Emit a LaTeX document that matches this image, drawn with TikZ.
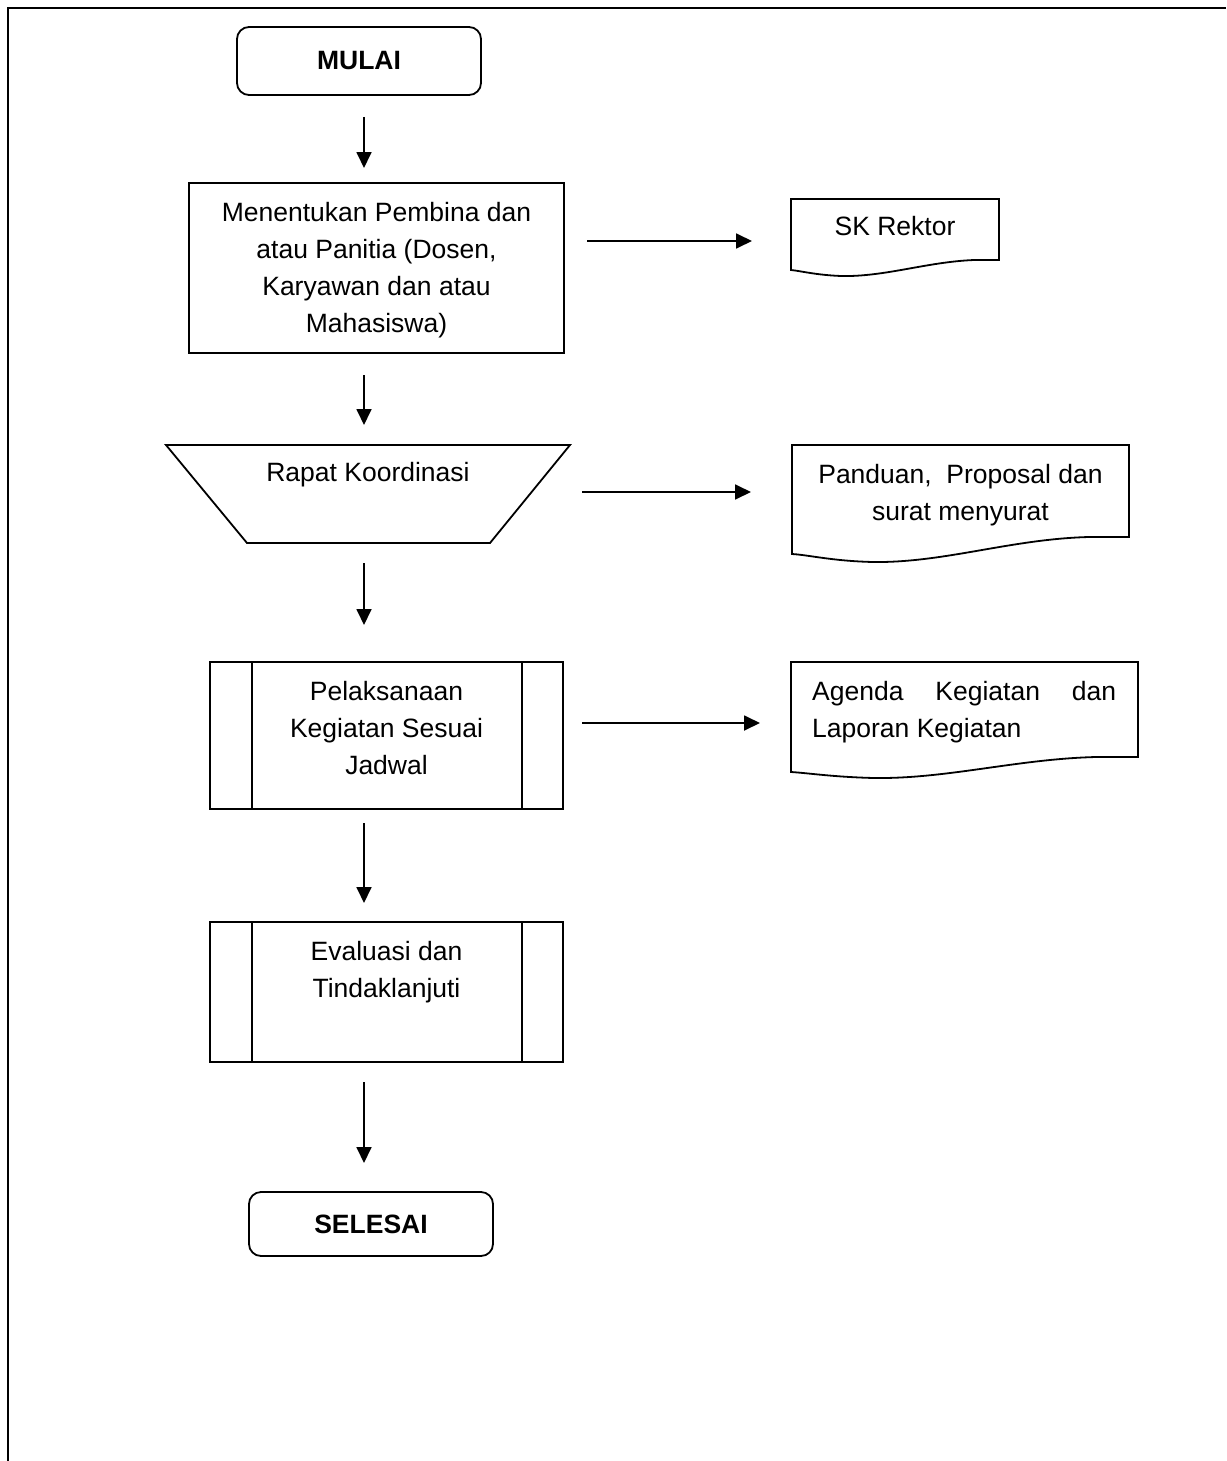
\documentclass[tikz,border=0pt]{standalone}
\usepackage{fontspec}
\setmainfont{Liberation Sans}
\usetikzlibrary{arrows.meta,calc}
\begin{document}
\begin{tikzpicture}[x=1pt,y=-1pt,
  every node/.style={font=\fontsize{26.5}{37}\selectfont},
  shp/.style={draw, line width=1.8pt, inner sep=0pt},
  term/.style={shp, rounded corners=12pt},
  lbl/.style={inner sep=0pt, align=center, anchor=north},
  arr/.style={line width=1.8pt, -{Triangle[length=16pt,width=15pt]}},
  outline/.style={line width=1.8pt, line join=miter},
  frame/.style={line width=2.8pt}]
\useasboundingbox (0,0) rectangle (1226,1461);
% outer frame (top and left only)
\draw[frame] (8,1461) -- (8,8) -- (1226,8);

% start / end
\node[term, minimum width=244pt, minimum height=68pt,
      font=\fontsize{26.5}{37}\selectfont\bfseries] (mulai) at (359,61) {MULAI};
\node[term, minimum width=244pt, minimum height=64pt,
      font=\fontsize{26.5}{37}\selectfont\bfseries] (selesai) at (371,1224) {SELESAI};

% process box
\node[shp, minimum width=375pt, minimum height=170pt] (b1) at (376.5,268) {};
\node[lbl] (b1t) at (376.5,202) {Menentukan Pembina dan\\atau Panitia (Dosen,\\Karyawan dan atau\\Mahasiswa)};

% manual operation (trapezoid)
\draw[outline] (166,445) -- (570,445) -- (490,543) -- (247,543) -- cycle;
\node[lbl] (rk) at (368,462) {Rapat Koordinasi};

% predefined processes
\node[shp, minimum width=353pt, minimum height=147pt] (p1) at (386.5,735.5) {};
\draw[line width=1.8pt] ([xshift=43pt]p1.north west) -- ([xshift=43pt]p1.south west)
      ([xshift=-42pt]p1.north east) -- ([xshift=-42pt]p1.south east);
\node[lbl] (p1t) at (386.5,681) {Pelaksanaan\\Kegiatan Sesuai\\Jadwal};

\node[shp, minimum width=353pt, minimum height=140pt] (p2) at (386.5,992) {};
\draw[line width=1.8pt] ([xshift=43pt]p2.north west) -- ([xshift=43pt]p2.south west)
      ([xshift=-42pt]p2.north east) -- ([xshift=-42pt]p2.south east);
\node[lbl] (p2t) at (386.5,941) {Evaluasi dan\\Tindaklanjuti};

% documents
\draw[outline] (791,270) -- (791,199) -- (999,199) -- (999,260) -- (974,260)
   .. controls (926,262) and (885,277) .. (841,276)
   .. controls (816,275) and (801,271) .. (791,270) -- cycle;
\node[lbl] (d1) at (895,216) {SK Rektor};

\draw[outline] (792,554) -- (792,445) -- (1129,445) -- (1129,537) -- (1089,537)
   .. controls (1011,539) and (944,563) .. (873,562)
   .. controls (832,561) and (809,555) .. (792,554) -- cycle;
\node[lbl] (d2) at (960.5,464) {Panduan,\ \ Proposal dan\\surat menyurat};

\draw[outline] (791,772) -- (791,662) -- (1138,662) -- (1138,757) -- (1096,757)
   .. controls (1017,759) and (947,779) .. (874,778)
   .. controls (833,777) and (808,773) .. (791,772) -- cycle;
\node[inner sep=0pt, anchor=north west, text width=304pt, align=justify] (d3) at (812,681)
   {Agenda Kegiatan dan\linebreak Laporan Kegiatan};

% connectors
\coordinate (a1s) at (364,117); \coordinate (a1e) at (364,168);
\coordinate (a2s) at (364,375); \coordinate (a2e) at (364,425);
\coordinate (a3s) at (364,563); \coordinate (a3e) at (364,625);
\coordinate (a4s) at (364,823); \coordinate (a4e) at (364,903);
\coordinate (a5s) at (364,1082); \coordinate (a5e) at (364,1163);
\coordinate (r1s) at (587,241); \coordinate (r1e) at (752,241);
\coordinate (r2s) at (582,492); \coordinate (r2e) at (751,492);
\coordinate (r3s) at (582,723); \coordinate (r3e) at (760,723);
\foreach \a in {a1,a2,a3,a4,a5,r1,r2,r3}
  \draw[arr] (\a s) -- (\a e);
\end{tikzpicture}
\end{document}
